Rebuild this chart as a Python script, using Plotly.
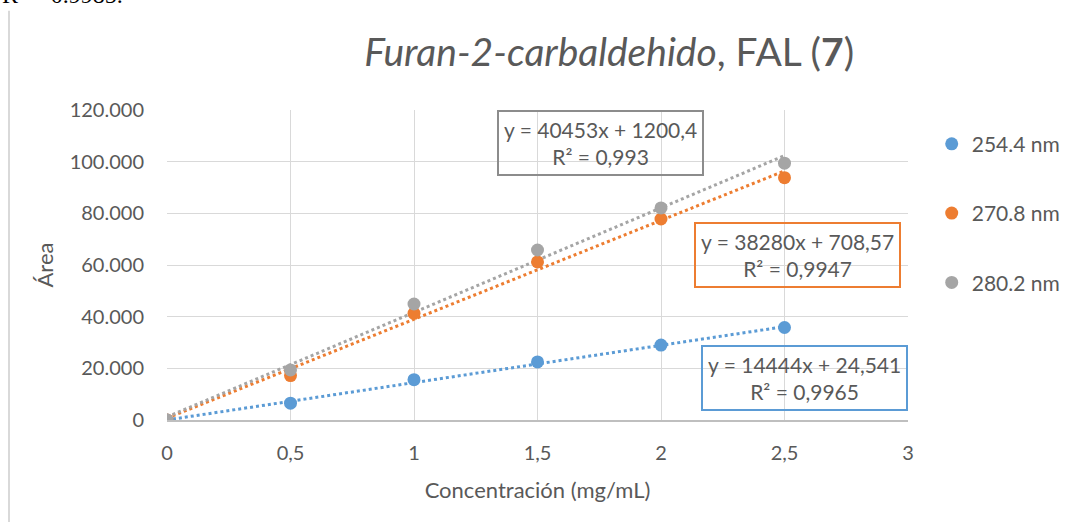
import plotly.graph_objects as go

# Calibration data: concentration (mg/mL) vs peak area at three wavelengths
conc = [0, 0.5, 1, 1.5, 2, 2.5]
area_254 = [0, 6500, 15600, 22500, 29000, 35800]
area_270 = [0, 17200, 41300, 61200, 77800, 93800]
area_280 = [0, 19400, 44900, 65800, 82100, 99400]

series_names = ["254.4 nm", "270.8 nm", "280.2 nm"]
colors = ["#5B9BD5", "#ED7D31", "#A5A5A5"]
box_colors = ["#5B9BD5", "#ED7D31", "#8C8C8C"]

# Linear trendline coefficients (slope, intercept, R²) as labelled
slopes = [14444, 38280, 40453]
intercepts = [24.541, 708.57, 1200.4]
r2 = ["0,9965", "0,9947", "0,993"]
eq_text = ["y = 14444x + 24,541", "y = 38280x + 708,57", "y = 40453x + 1200,4"]

FONT = "Lato"
TXT = "#595959"

fig = go.Figure()

all_areas = [area_254, area_270, area_280]
x_fit = [conc[0], conc[-1]]
for i in range(3):
    y_fit = [slopes[i] * xv + intercepts[i] for xv in x_fit]
    fig.add_trace(go.Scatter(
        x=x_fit, y=y_fit, mode="lines",
        line=dict(color=colors[i], width=3, dash="dot"),
        showlegend=False, hoverinfo="skip"))

for i in range(3):
    fig.add_trace(go.Scatter(
        x=conc, y=all_areas[i], mode="markers", name=series_names[i],
        marker=dict(color=colors[i], size=13),
        legendgroup=series_names[i]))

# Equation labels placed beside their trendlines (data coordinates)
label_pos = [(2.581, 16300), (2.551, 63900), (1.757, 107200)]
for i in range(3):
    lx, ly = label_pos[i]
    fig.add_annotation(
        x=lx, y=ly, xref="x", yref="y",
        text=f"{eq_text[i]}<br>R² = {r2[i]}",
        showarrow=False, align="center",
        font=dict(family=FONT, size=21, color=TXT),
        bordercolor=box_colors[i], borderwidth=2, borderpad=5,
        bgcolor="rgba(0,0,0,0)")

# Fragment of text from the surrounding document above the chart
fig.add_annotation(
    x=-0.225, y=1.372, xref="paper", yref="paper",
    xanchor="left", yanchor="middle",
    text="R² = 0.9985.", showarrow=False,
    font=dict(family="Liberation Serif", size=24, color="black"))

# Left border of the chart frame
fig.add_shape(type="line", xref="paper", yref="paper",
              x0=-0.2132, x1=-0.2132, y0=1.32, y1=-0.34,
              line=dict(color="#D9D9D9", width=2))

fig.update_layout(
    width=1083, height=522,
    margin=dict(l=167, r=175, t=110, b=102),
    paper_bgcolor="white", plot_bgcolor="white",
    separators=",.",
    title=dict(
        text="<i>Furan-2-carbaldehido</i>, FAL (<b>7</b>)",
        x=0.5625, xref="container", xanchor="center",
        y=0.9, yref="container", yanchor="middle",
        font=dict(family=FONT, size=39, color=TXT)),
    font=dict(family=FONT, size=20, color=TXT),
    legend=dict(x=1.032, y=0.956, xanchor="left", yanchor="top",
                tracegroupgap=39, font=dict(size=21, color=TXT),
                bgcolor="rgba(0,0,0,0)"),
    showlegend=True,
)

fig.update_xaxes(
    range=[0, 3], dtick=0.5, tick0=0,
    showgrid=True, gridcolor="#D9D9D9", gridwidth=1,
    showline=True, linecolor="#BFBFBF", linewidth=2,
    zeroline=False, ticks="", ticklabelstandoff=14,
    title=dict(text="Concentración (mg/mL)", font=dict(size=22, color=TXT), standoff=20),
    tickfont=dict(size=20, color=TXT))

fig.update_yaxes(
    range=[0, 120000], dtick=20000, tickformat=",d",
    showgrid=True, gridcolor="#D9D9D9", gridwidth=1,
    showline=False, zeroline=False, ticks="", ticklabelstandoff=22,
    title=dict(text="Área", font=dict(size=22, color=TXT), standoff=9),
    tickfont=dict(size=20, color=TXT))

fig.write_html("out.html")
